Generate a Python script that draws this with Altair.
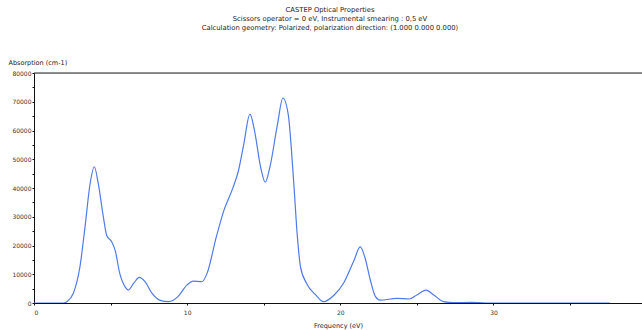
import altair as alt
import pandas as pd

# Absorption spectrum, frequency in eV vs absorption in cm-1
freq = [0, 1.0, 1.9, 2.14, 2.57, 3.0, 3.33, 3.66, 3.94, 4.2, 4.53, 4.75, 5.08,
        5.3, 5.6, 5.95, 6.16, 6.5, 6.88, 7.25, 7.7, 8.2, 8.78, 9.4, 9.98, 10.4,
        10.96, 11.3, 11.9, 12.4, 13.0, 13.35, 13.7, 14.1, 14.4, 14.8, 15.1, 15.4,
        15.9, 16.25, 16.6, 16.95, 17.2, 17.4, 17.8, 18.4, 18.9, 19.6, 20.2, 20.9,
        21.3, 21.6, 21.96, 22.3, 22.6, 23.7, 24.5, 25.0, 25.6, 26.1, 26.75, 27.4,
        28.5, 29.5, 37.6]
absorption = [0, 0, 0, 450, 3400, 12600, 26400, 41400, 47400, 41400, 29900, 23500,
              21200, 18300, 10300, 5600, 4500, 6800, 8900, 7400, 3400, 1000, 450,
              2200, 6200, 7600, 7400, 10300, 22900, 32200, 40200, 46000, 55300,
              65700, 59900, 47200, 42000, 47200, 62200, 71300, 65600, 42600, 22900,
              12600, 6800, 2800, 450, 2800, 6800, 14900, 19500, 16000, 8000, 2200,
              1000, 1600, 1400, 2800, 4500, 2800, 450, 100, 200, 0, 0]

title_lines = [
    "CASTEP Optical Properties",
    "Scissors operator = 0 eV, Instrumental smearing : 0,5 eV",
    "Calculation geometry: Polarized, polarization direction: (1.000 0.000 0.000)",
]

x_ticks = [0, 5, 10, 15, 20, 25, 30, 35]
y_ticks = list(range(0, 80001, 5000))

FONT = "DejaVu Sans"

df = pd.DataFrame({"freq": freq, "absorption": absorption})

x_scale = alt.Scale(domain=[0, 39.7], nice=False, zero=False)
y_scale = alt.Scale(domain=[0, 80000], nice=False)

y_axis = alt.Axis(
    values=y_ticks, title="Absorption (cm-1)",
    labelExpr="datum.value % 10000 == 0 ? datum.label : ''",
    labelOverlap=False,
    format="d", grid=False, domainColor="#111", tickColor="#111",
    tickSize=2, labelPadding=1, labelFont=FONT, labelFontSize=6,
    labelColor="#333", titleFont=FONT, titleFontSize=6.5,
    titleFontWeight="normal", titleColor="#222", titleAngle=0,
    titleAlign="left", titleBaseline="middle", titleX=-26, titleY=-11,
)

x_axis = alt.Axis(
    values=x_ticks, title="Frequency (eV)",
    labelExpr="datum.value % 10 == 0 ? datum.label : ''",
    labelOverlap=False,
    grid=False, domainColor="#111", tickColor="#111", tickSize=2,
    labelPadding=4, labelFont=FONT, labelFontSize=6, labelColor="#333",
    titleFont=FONT, titleFontSize=6.5, titleFontWeight="normal",
    titleColor="#222", titleY=22, titleBaseline="middle",
)

line = alt.Chart(df).mark_line(
    color="#4f7be8", strokeWidth=1.2, interpolate="monotone", clip=True
).encode(
    x=alt.X("freq:Q", scale=x_scale, axis=x_axis),
    y=alt.Y("absorption:Q", scale=y_scale, axis=y_axis),
)

# top border of the plot at the upper end of the absorption axis
top = alt.Chart(pd.DataFrame({"absorption": [80000]})).mark_rule(
    color="#222", strokeWidth=1
).encode(y=alt.Y("absorption:Q", scale=y_scale, axis=y_axis))

chart = alt.layer(line, top).properties(
    width=608,
    height=230,
    padding={"left": 34, "top": 73, "right": 0, "bottom": 27},
    autosize=alt.AutoSizeParams(type="none"),
    title=alt.TitleParams(
        text=title_lines, font=FONT, fontSize=6.8, fontWeight="normal",
        color="#222", lineHeight=9, anchor="middle", dx=-8, offset=27,
    ),
).configure_view(stroke=None).configure(background="white")

chart.save("out.html", embed_options={"renderer": "svg", "actions": False})
